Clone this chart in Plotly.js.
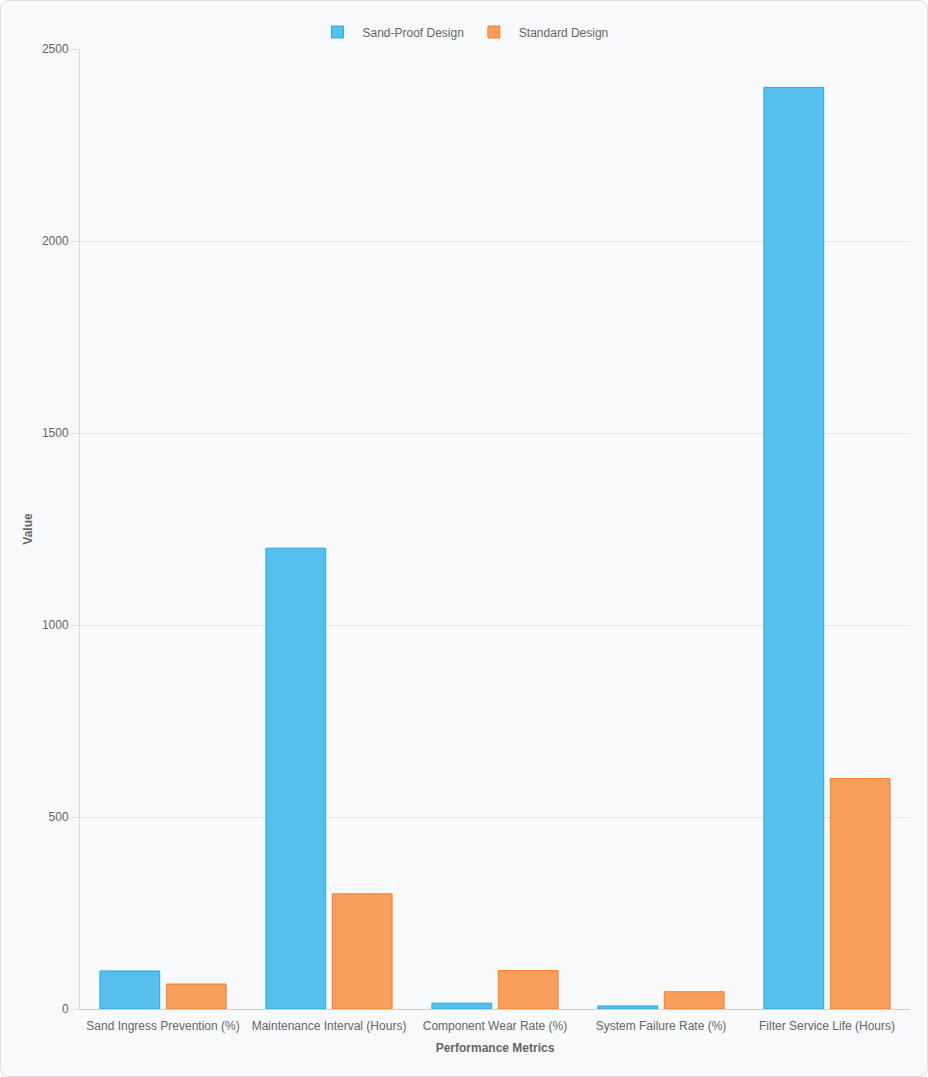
<!DOCTYPE html>
<html>
<head>
<meta charset="utf-8">
<script src="https://cdn.plot.ly/plotly-3.0.1.min.js"></script>
<style>
html,body{margin:0;padding:0;background:#ffffff;}
#card{position:absolute;left:0;top:0;width:926px;height:1075px;border:1px solid #dcdfe3;border-radius:8px;background:#f8f9fa;}
#chart{position:absolute;left:0;top:0;width:928px;height:1077px;}
</style>
</head>
<body>
<div id="card"></div>
<div id="chart"></div>
<script>
const categories = ["Sand Ingress Prevention (%)", "Maintenance Interval (Hours)", "Component Wear Rate (%)", "System Failure Rate (%)", "Filter Service Life (Hours)"];
const sandProof = [99, 1200, 15, 8, 2400];
const standard = [65, 300, 100, 45, 600];
const yTicks = [0, 500, 1000, 1500, 2000, 2500];

const traces = [
  {type:'bar', name:'Sand-Proof Design', x:categories, y:sandProof,
   marker:{color:'#55bfee', line:{color:'#29a9e6', width:1}}, hoverinfo:'x+y'},
  {type:'bar', name:'Standard Design', x:categories, y:standard,
   marker:{color:'#f99e5b', line:{color:'#f77f2a', width:1}}, hoverinfo:'x+y'}
];

const layout = {
  width:928, height:1077,
  margin:{l:80, r:18, t:49, b:68},
  paper_bgcolor:'rgba(0,0,0,0)', plot_bgcolor:'rgba(0,0,0,0)',
  font:{family:'"Liberation Sans", Arial, sans-serif', size:12, color:'#666666'},
  barmode:'group', bargap:0.2, bargroupgap:0.1,
  showlegend:true,
  legend:{orientation:'h', x:0.4614, xanchor:'center', y:1 - 32/1077, yanchor:'middle', yref:'container',
          font:{size:12, color:'#666666'}, itemwidth:40, traceorder:'normal'},
  xaxis:{type:'category', showgrid:false, showline:true, linecolor:'#cfcfcf', linewidth:1,
         ticks:'', ticklabelstandoff:6, tickfont:{size:12, color:'#666666'},
         title:{text:'Performance Metrics', font:{size:12, color:'#666666', weight:'bold'}, standoff:11}},
  yaxis:{range:[0,2500], tickvals:yTicks, showgrid:true, gridcolor:'#e6e6e6', gridwidth:1,
         showline:true, linecolor:'#dcdcdc', linewidth:1, zeroline:false,
         ticks:'outside', ticklen:8, tickcolor:'#e0e0e0', tickfont:{size:12, color:'#666666'},
         title:{text:'Value', font:{size:12, color:'#666666', weight:'bold'}, standoff:6}}
};

Plotly.newPlot('chart', traces, layout, {displayModeBar:false, responsive:false});
</script>
</body>
</html>
